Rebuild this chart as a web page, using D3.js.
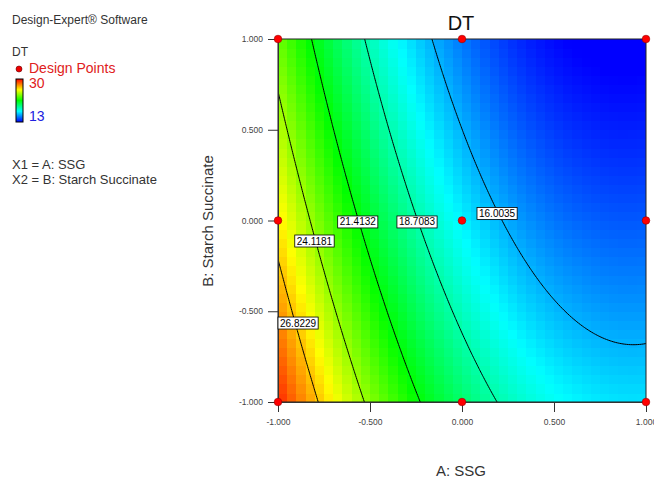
<!DOCTYPE html>
<html>
<head>
<meta charset="utf-8">
<script src="https://cdn.jsdelivr.net/npm/d3@7"></script>
<style>
body { margin: 0; background: #fff; }
text { font-family: Arial, "Liberation Sans", sans-serif; }
</style>
</head>
<body>
<div id="chart"></div>
<script>
// Coded factor levels of the 3x3 design
var ssgLevels = [-1, 0, 1];
var starchLevels = [-1, 0, 1];

// Predicted DT at the design points, one row per Starch Succinate level
var dtStarchLow = [29.44, 19.75, 16.8];
var dtStarchMid = [26.08, 17.08, 14.49];
var dtStarchHigh = [23.31, 15.02, 12.75];

// Contour levels printed on the plot
var contourLevels = [16.0035, 18.7083, 21.4132, 24.1181, 26.8229];

// Axis ticks and colour range
var tickValues = [-1, -0.5, 0, 0.5, 1];
var colorMin = 13;
var colorMax = 30;

var width = 654;
var height = 478;

var svg = d3.select("#chart")
  .append("svg")
  .attr("width", width)
  .attr("height", height);

// plot area
var xScale = d3.scaleLinear().domain([-1, 1]).range([278, 646]);
var yScale = d3.scaleLinear().domain([-1, 1]).range([402, 39]);

var dtRows = [dtStarchLow, dtStarchMid, dtStarchHigh];

// quadratic basis through the three coded levels
function basis(t) {
  return [t * (t - 1) / 2, 1 - t * t, t * (t + 1) / 2];
}

function dt(a, b) {
  var la = basis(a), lb = basis(b), sum = 0;
  for (var j = 0; j < 3; j++) {
    for (var i = 0; i < 3; i++) {
      sum += lb[j] * la[i] * dtRows[j][i];
    }
  }
  return sum;
}

var step = (colorMax - colorMin) / 4;
var color = d3.scaleLinear()
  .domain([colorMin, colorMin + step, colorMin + 2 * step, colorMin + 3 * step, colorMax])
  .range(["#0000ff", "#00ffff", "#00ff00", "#ffff00", "#ff0000"])
  .clamp(true);

svg.append("defs")
  .append("clipPath")
  .attr("id", "plotClip")
  .append("rect")
  .attr("x", xScale(-1))
  .attr("y", yScale(1))
  .attr("width", xScale(1) - xScale(-1))
  .attr("height", yScale(-1) - yScale(1));

var plot = svg.append("g").attr("clip-path", "url(#plotClip)");

// Coloured cells (40 x 40 like the original raster)
var cellN = 40;
var cellSize = 2 / cellN;
var cells = [];
d3.range(cellN).forEach(function(j) {
  d3.range(cellN).forEach(function(i) {
    cells.push({ a: -1 + i * cellSize, b: -1 + j * cellSize });
  });
});

plot.selectAll("rect.cell")
  .data(cells)
  .enter()
  .append("rect")
  .attr("class", "cell")
  .attr("x", function(d) { return xScale(d.a); })
  .attr("y", function(d) { return yScale(d.b + cellSize); })
  .attr("width", xScale(cellSize) - xScale(0) + 0.6)
  .attr("height", yScale(0) - yScale(cellSize) + 0.6)
  .attr("fill", function(d) { return color(dt(d.a + cellSize / 2, d.b + cellSize / 2)); })
  .attr("shape-rendering", "crispEdges");

// Contour lines from a fine grid, a bit larger than the plot so the edges fall outside the clip
var gMin = -1.1, gStep = 0.01, gN = 221;
var gridValues = new Array(gN * gN);
for (var j = 0; j < gN; j++) {
  for (var i = 0; i < gN; i++) {
    gridValues[j * gN + i] = dt(gMin + i * gStep, gMin + j * gStep);
  }
}

var contours = d3.contours()
  .size([gN, gN])
  .thresholds(contourLevels)(gridValues);

var toPlot = d3.geoTransform({
  point: function(px, py) {
    this.stream.point(xScale(gMin + px * gStep), yScale(gMin + py * gStep));
  }
});

plot.selectAll("path.contour")
  .data(contours)
  .enter()
  .append("path")
  .attr("class", "contour")
  .attr("d", d3.geoPath(toPlot))
  .attr("fill", "none")
  .attr("stroke", "#000")
  .attr("stroke-width", 1);

// Frame
svg.append("rect")
  .attr("x", xScale(-1))
  .attr("y", yScale(1))
  .attr("width", xScale(1) - xScale(-1))
  .attr("height", yScale(-1) - yScale(1))
  .attr("fill", "none")
  .attr("stroke", "#222")
  .attr("stroke-width", 1);

// Axes (plain hyphen for negatives, as in the original)
var fmt = function(d) { return d.toFixed(3); };
var xAxis = d3.axisBottom(xScale).tickValues(tickValues).tickFormat(fmt)
  .tickSize(10).tickSizeOuter(0).tickPadding(7);
var yAxis = d3.axisLeft(yScale).tickValues(tickValues).tickFormat(fmt)
  .tickSize(10).tickSizeOuter(0).tickPadding(5);

var gx = svg.append("g")
  .attr("transform", "translate(0," + yScale(-1) + ")")
  .call(xAxis);
var gy = svg.append("g")
  .attr("transform", "translate(" + xScale(-1) + ",0)")
  .call(yAxis);

[gx, gy].forEach(function(g) {
  g.select(".domain").attr("stroke", "#333");
  g.selectAll(".tick line").attr("stroke", "#333");
  g.selectAll(".tick text")
    .attr("fill", "#444")
    .style("font-size", "8.5px")
    .style("font-family", "Arial, 'Liberation Sans', sans-serif");
});

// Contour labels
var labelB = [0.039, -0.008, -0.008, -0.113, -0.565];

function solveA(level, b) {
  var lo = -1, hi = 0.8;
  for (var k = 0; k < 50; k++) {
    var mid = (lo + hi) / 2;
    if (dt(mid, b) > level) lo = mid; else hi = mid;
  }
  return (lo + hi) / 2;
}

contourLevels.forEach(function(level, k) {
  var b = labelB[k];
  var a = Math.max(solveA(level, b), -1);
  var cx = xScale(a), cy = yScale(b);
  var lab = svg.append("g");
  var box = lab.append("rect");
  var t = lab.append("text")
    .attr("x", cx)
    .attr("y", cy + 3.5)
    .attr("text-anchor", "middle")
    .style("font-size", "10px")
    .attr("fill", "#000")
    .text(level.toFixed(4));
  var w = t.node().getComputedTextLength() + 4;
  var left = Math.max(cx - w / 2, xScale(-1));
  t.attr("x", left + w / 2);
  box.attr("x", left)
    .attr("y", cy - 6)
    .attr("width", w)
    .attr("height", 12)
    .attr("fill", "#fff")
    .attr("stroke", "#000")
    .attr("stroke-width", 0.8);
});

// Design points
var designPoints = [];
starchLevels.forEach(function(b) {
  ssgLevels.forEach(function(a) {
    designPoints.push({ a: a, b: b });
  });
});

svg.selectAll("circle.design")
  .data(designPoints)
  .enter()
  .append("circle")
  .attr("class", "design")
  .attr("cx", function(d) { return xScale(d.a); })
  .attr("cy", function(d) { return yScale(d.b); })
  .attr("r", 3.8)
  .attr("fill", "#f00")
  .attr("stroke", "#900")
  .attr("stroke-width", 0.6);

// Titles
svg.append("text")
  .attr("x", 461)
  .attr("y", 30)
  .attr("text-anchor", "middle")
  .style("font-size", "20px")
  .attr("fill", "#111")
  .text("DT");

svg.append("text")
  .attr("x", 461)
  .attr("y", 476)
  .attr("text-anchor", "middle")
  .style("font-size", "15px")
  .attr("fill", "#333")
  .text("A: SSG");

svg.append("text")
  .attr("transform", "translate(213,221)rotate(-90)")
  .attr("text-anchor", "middle")
  .style("font-size", "15px")
  .attr("fill", "#333")
  .text("B: Starch Succinate");

// Left side legend
svg.append("text")
  .attr("x", 12).attr("y", 24)
  .style("font-size", "12px")
  .attr("fill", "#333")
  .text("Design-Expert\u00AE Software");

svg.append("text")
  .attr("x", 12).attr("y", 56)
  .style("font-size", "12px")
  .attr("fill", "#333")
  .text("DT");

svg.append("circle")
  .attr("cx", 19).attr("cy", 69)
  .attr("r", 3)
  .attr("fill", "#e00")
  .attr("stroke", "#600")
  .attr("stroke-width", 0.6);

svg.append("text")
  .attr("x", 29).attr("y", 73)
  .style("font-size", "14px")
  .attr("fill", "#e02020")
  .text("Design Points");

var grad = svg.select("defs")
  .append("linearGradient")
  .attr("id", "legendGrad")
  .attr("x1", 0).attr("y1", 1).attr("x2", 0).attr("y2", 0);
color.domain().forEach(function(v) {
  grad.append("stop")
    .attr("offset", (v - colorMin) / (colorMax - colorMin))
    .attr("stop-color", color(v));
});

svg.append("rect")
  .attr("x", 16).attr("y", 79)
  .attr("width", 7).attr("height", 43)
  .attr("fill", "url(#legendGrad)")
  .attr("stroke", "#000")
  .attr("stroke-width", 1);

svg.append("text")
  .attr("x", 29).attr("y", 88)
  .style("font-size", "14px")
  .attr("fill", "#e02020")
  .text(colorMax);

svg.append("text")
  .attr("x", 29).attr("y", 121)
  .style("font-size", "14px")
  .attr("fill", "#2020e0")
  .text(colorMin);

svg.append("text")
  .attr("x", 12).attr("y", 169)
  .style("font-size", "13px")
  .attr("fill", "#333")
  .text("X1 = A: SSG");

svg.append("text")
  .attr("x", 12).attr("y", 184)
  .style("font-size", "13px")
  .attr("fill", "#333")
  .text("X2 = B: Starch Succinate");
</script>
</body>
</html>
